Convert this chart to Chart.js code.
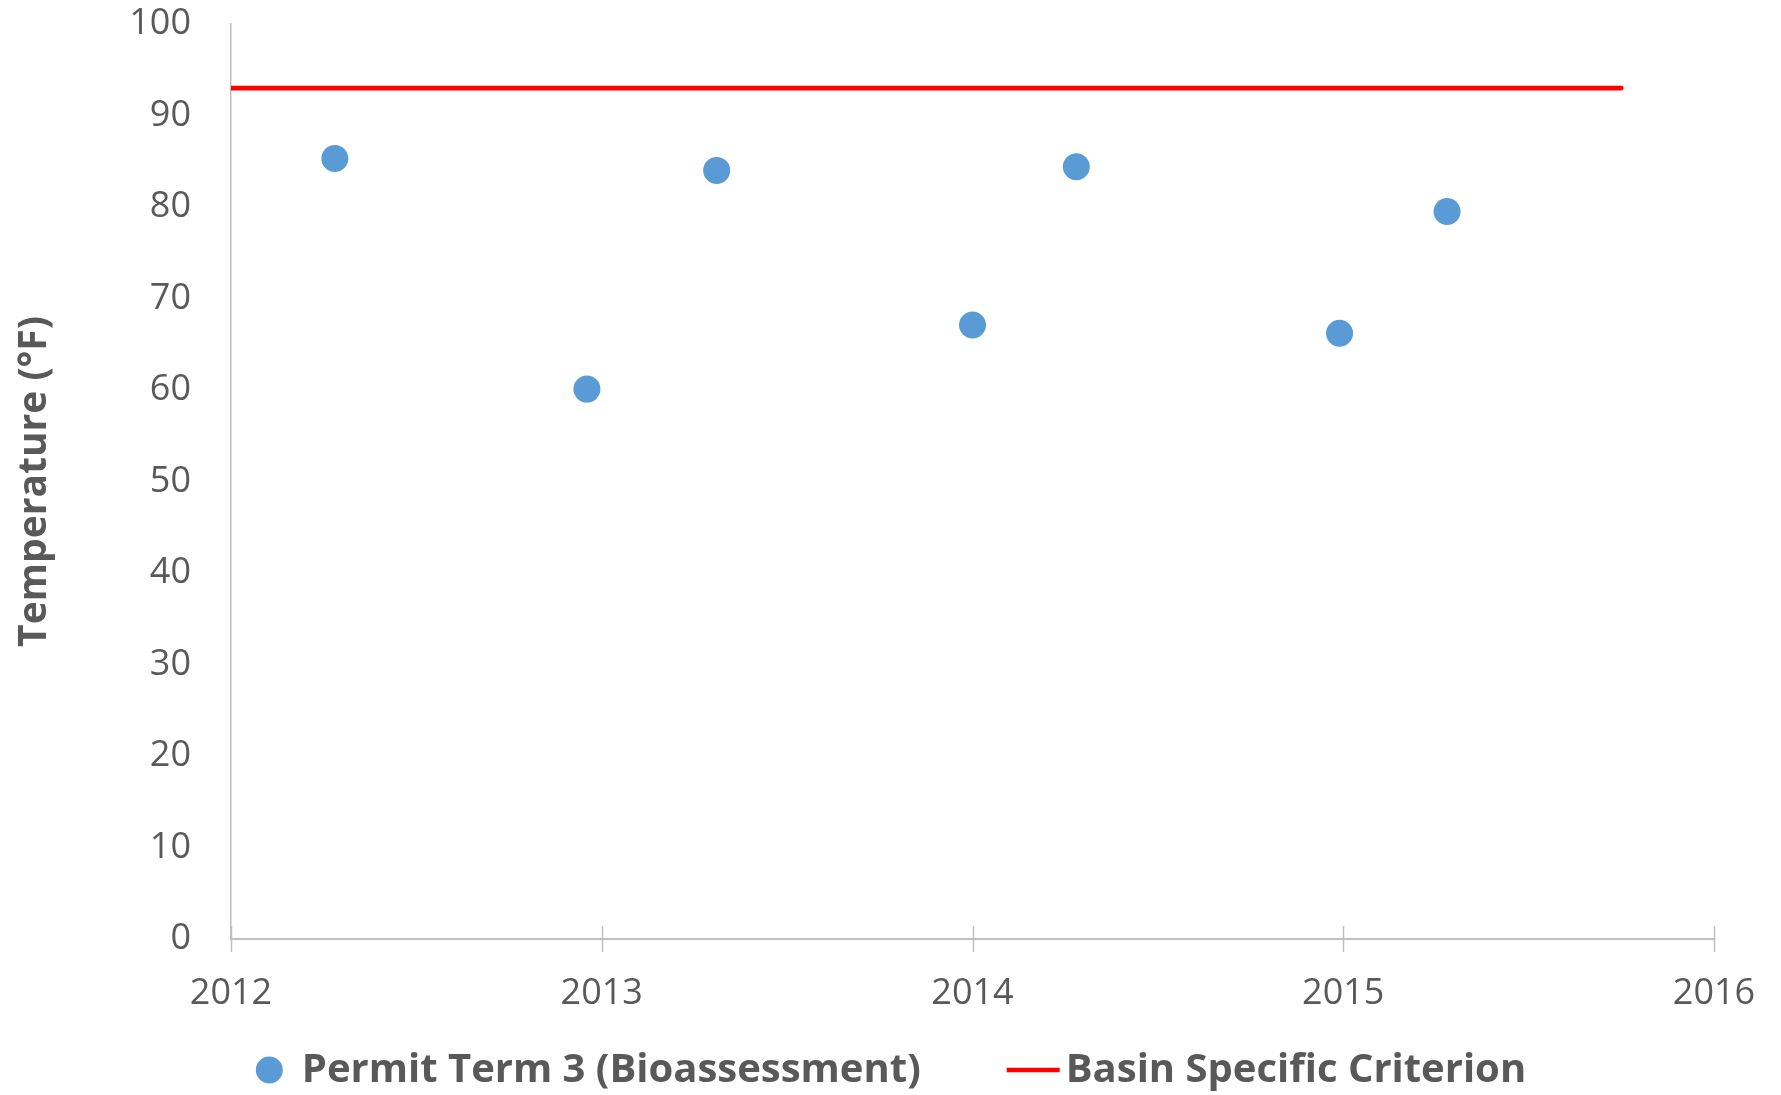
<!DOCTYPE html>
<html>
<head>
<meta charset="utf-8">
<script src="https://cdn.jsdelivr.net/npm/chart.js@4/dist/chart.umd.min.js"></script>
<style>
  html, body { margin: 0; padding: 0; background: #ffffff; }
  #wrap { width: 1781px; height: 1095px; position: relative; }
</style>
</head>
<body>
<div id="wrap"><canvas id="c" width="1781" height="1095"></canvas></div>
<script>
// ---- data ----
const seriesLabels = ['Permit Term 3 (Bioassessment)', 'Basin Specific Criterion'];
const sampleYears = [2012.28, 2012.96, 2013.31, 2014.00, 2014.28, 2014.99, 2015.28];
const sampleTemps = [85.3, 60.1, 84.0, 67.1, 84.4, 66.2, 79.5];
const criterionYears = [2012.0, 2015.75];
const criterionTemps = [93, 93];
const xTickYears = [2012, 2013, 2014, 2015, 2016];
const yTickValues = [0, 10, 20, 30, 40, 50, 60, 70, 80, 90, 100];
const yAxisTitle = 'Temperature (°F)';

const GREY_TEXT = '#595959';
const AXIS_GREY = '#BFBFBF';
const FONT = '"Open Sans", "Liberation Sans", sans-serif';

const crossTicks = {
  id: 'crossTicks',
  afterDatasetsDraw(chart) {
    const xs = chart.scales.x, ctx = chart.ctx;
    const y0 = chart.chartArea.bottom;
    ctx.save();
    ctx.strokeStyle = AXIS_GREY;
    ctx.lineWidth = 1.5;
    xTickYears.forEach(v => {
      const px = Math.round(xs.getPixelForValue(v)) + 0.5;
      ctx.beginPath();
      ctx.moveTo(px, y0 - 13);
      ctx.lineTo(px, y0 + 13);
      ctx.stroke();
    });
    ctx.restore();
  }
};

const bottomLegend = {
  id: 'bottomLegend',
  afterDraw(chart) {
    const ctx = chart.ctx;
    const boxW = 53, gapText = 6, gapItem = 86;
    const cy = 1070;
    ctx.save();
    ctx.font = 'bold 40px ' + FONT;
    ctx.textBaseline = 'middle';
    const items = chart.data.datasets.map(ds => ({
      text: ds.label,
      w: ctx.measureText(ds.label).width,
      ds
    }));
    let total = 0;
    items.forEach((it, i) => { total += boxW + gapText + it.w + (i < items.length - 1 ? gapItem : 0); });
    let x = chart.width / 2 - total / 2 - 6;
    items.forEach(it => {
      const ds = it.ds;
      const mx = x + boxW / 2;
      if (ds.showLine) {
        ctx.strokeStyle = ds.borderColor;
        ctx.lineWidth = ds.borderWidth;
        ctx.beginPath();
        ctx.moveTo(x, cy);
        ctx.lineTo(x + boxW, cy);
        ctx.stroke();
      } else {
        ctx.fillStyle = ds.backgroundColor;
        ctx.beginPath();
        ctx.arc(mx, cy, ds.pointRadius, 0, Math.PI * 2);
        ctx.fill();
      }
      ctx.fillStyle = GREY_TEXT;
      ctx.fillText(it.text, x + boxW + gapText, cy + 1);
      x += boxW + gapText + it.w + gapItem;
    });
    ctx.restore();
  }
};

new Chart(document.getElementById('c'), {
  type: 'scatter',
  data: {
    datasets: [
      {
        label: seriesLabels[0],
        data: sampleYears.map((x, i) => ({ x, y: sampleTemps[i] })),
        backgroundColor: '#5B9BD5',
        borderColor: '#5B9BD5',
        pointRadius: 13.5,
        pointHoverRadius: 13.5,
        borderWidth: 0,
        showLine: false
      },
      {
        label: seriesLabels[1],
        data: criterionYears.map((x, i) => ({ x, y: criterionTemps[i] })),
        borderColor: '#FF0000',
        backgroundColor: '#FF0000',
        borderWidth: 4.7,
        pointRadius: 0,
        showLine: true,
        borderCapStyle: 'round'
      }
    ]
  },
  options: {
    responsive: false,
    animation: false,
    events: [],
    layout: { padding: { top: 24, right: 67, left: 0, bottom: 0 } },
    plugins: {
      legend: { display: false },
      tooltip: { enabled: false }
    },
    scales: {
      x: {
        type: 'linear',
        min: xTickYears[0],
        max: xTickYears[xTickYears.length - 1],
        afterBuildTicks: s => { s.ticks = xTickYears.map(v => ({ value: v })); },
        grid: { display: false, drawTicks: false },
        border: { display: true, color: AXIS_GREY, width: 2 },
        ticks: {
          padding: 33,
          color: GREY_TEXT,
          font: { family: FONT, size: 36 },
          callback: v => String(v),
          maxRotation: 0
        },
        afterFit: s => { s.height = 1095 - 939; s.paddingLeft = 0; s.paddingRight = 0; }
      },
      y: {
        type: 'linear',
        min: yTickValues[0],
        max: yTickValues[yTickValues.length - 1],
        afterBuildTicks: s => { s.ticks = yTickValues.map(v => ({ value: v })); },
        grid: { display: false, drawTicks: false },
        border: { display: true, color: AXIS_GREY, width: 1.5 },
        ticks: {
          padding: 40,
          color: GREY_TEXT,
          font: { family: FONT, size: 36 }
        },
        title: {
          display: true,
          text: yAxisTitle,
          color: GREY_TEXT,
          font: { family: FONT, size: 39, weight: 'bold' },
          padding: { top: 11, bottom: 0 }
        },
        afterFit: s => { s.width = 231; s.paddingTop = 0; s.paddingBottom = 0; }
      }
    }
  },
  plugins: [crossTicks, bottomLegend]
});
</script>
</body>
</html>
